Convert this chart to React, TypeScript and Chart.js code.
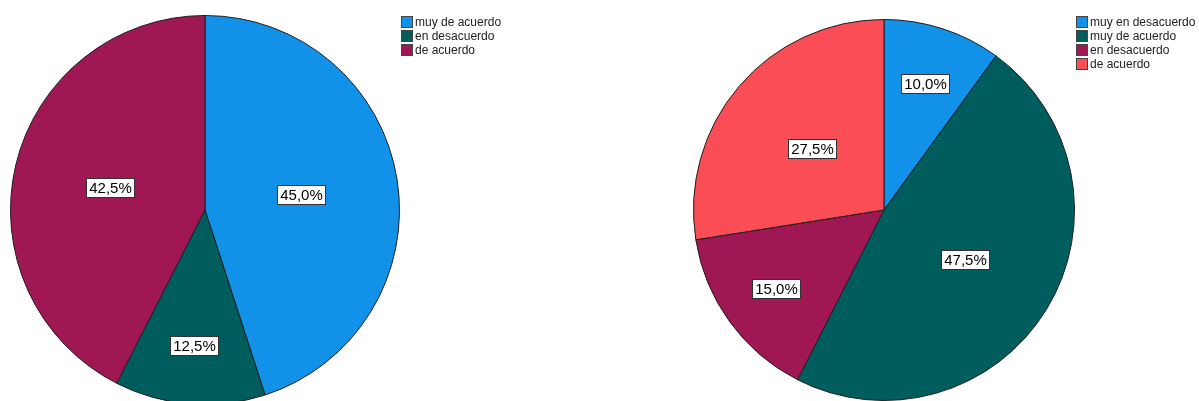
import React, { useEffect, useRef } from "react";
import { Chart, registerables } from "chart.js";

Chart.register(...registerables);

const leftLabels = ["muy de acuerdo", "en desacuerdo", "de acuerdo"];
const leftValues = [45.0, 12.5, 42.5];
const leftColors = ["#1192e8", "#005d5d", "#9f1853"];

const rightLabels = ["muy en desacuerdo", "muy de acuerdo", "en desacuerdo", "de acuerdo"];
const rightValues = [10.0, 47.5, 15.0, 27.5];
const rightColors = ["#1192e8", "#005d5d", "#9f1853", "#fa4d56"];

const FONT = "'Liberation Sans', Arial, sans-serif";

const labelPlugin = {
  id: "sliceLabels",
  afterDatasetsDraw(chart: any) {
    const ctx = chart.ctx;
    const meta = chart.getDatasetMeta(0);
    const data = chart.data.datasets[0].data as number[];
    const total = data.reduce((a, b) => a + b, 0);
    ctx.save();
    ctx.font = `15px ${FONT}`;
    ctx.textAlign = "center";
    ctx.textBaseline = "middle";
    meta.data.forEach((arc: any, i: number) => {
      const { x, y, startAngle, endAngle, outerRadius } = arc.getProps(
        ["x", "y", "startAngle", "endAngle", "outerRadius"],
        true
      );
      const mid = (startAngle + endAngle) / 2;
      const frac = data[i] / total;
      const d = outerRadius * (frac < 0.2 ? 0.7 : 0.5);
      const cx = x + Math.cos(mid) * d;
      const cy = y + Math.sin(mid) * d;
      const text = data[i].toFixed(1).replace(".", ",") + "%";
      const tw = ctx.measureText(text).width;
      const w = Math.round(tw + 5);
      const h = 19;
      const bx = Math.round(cx - w / 2) + 0.5;
      const by = Math.round(cy - h / 2) + 0.5;
      ctx.fillStyle = "#ffffff";
      ctx.fillRect(bx, by, w, h);
      ctx.strokeStyle = "#333333";
      ctx.lineWidth = 1;
      ctx.strokeRect(bx, by, w, h);
      ctx.fillStyle = "#000000";
      ctx.fillText(text, bx + w / 2, by + h / 2 + 1);
    });
    ctx.restore();
  },
};

const legendPlugin = {
  id: "sideLegend",
  afterDraw(chart: any) {
    const ctx = chart.ctx;
    const labels = chart.data.labels as string[];
    const colors = chart.data.datasets[0].backgroundColor as string[];
    const x0 = Math.round(chart.chartArea.right) + 1;
    const y0 = 16;
    ctx.save();
    ctx.font = `12px ${FONT}`;
    ctx.textAlign = "left";
    ctx.textBaseline = "middle";
    labels.forEach((lab, i) => {
      const y = y0 + i * 14;
      ctx.fillStyle = colors[i];
      ctx.fillRect(x0 + 0.5, y + 0.5, 11, 11);
      ctx.strokeStyle = "#444444";
      ctx.lineWidth = 1;
      ctx.strokeRect(x0 + 0.5, y + 0.5, 11, 11);
      ctx.fillStyle = "#222222";
      ctx.fillText(lab, x0 + 14, y + 6.5);
    });
    ctx.restore();
  },
};

type PieProps = {
  labels: string[];
  values: number[];
  colors: string[];
  left: number;
  width: number;
  height: number;
  padding: { left: number; right: number; top: number; bottom: number };
};

function PieChart({ labels, values, colors, left, width, height, padding }: PieProps) {
  const ref = useRef<HTMLCanvasElement>(null);
  useEffect(() => {
    if (!ref.current) return;
    const chart = new Chart(ref.current, {
      type: "pie",
      data: {
        labels,
        datasets: [
          {
            data: values,
            backgroundColor: colors,
            borderColor: "#1e1e1e",
            borderWidth: 1,
          },
        ],
      },
      options: {
        animation: false,
        responsive: false,
        maintainAspectRatio: false,
        layout: { padding },
        plugins: {
          legend: { display: false },
          tooltip: { enabled: false },
        },
      },
      plugins: [labelPlugin, legendPlugin],
    });
    return () => chart.destroy();
  }, []);
  return (
    <canvas
      ref={ref}
      width={width}
      height={height}
      style={{ position: "absolute", left, top: 0, width, height }}
    />
  );
}

export default function App() {
  return (
    <div
      style={{
        position: "fixed",
        left: 0,
        top: 0,
        width: 1199,
        height: 401,
        overflow: "hidden",
        background: "#ffffff",
      }}
    >
      <PieChart
        labels={leftLabels}
        values={leftValues}
        colors={leftColors}
        left={0}
        width={600}
        height={420}
        padding={{ left: 10, top: 15, right: 200, bottom: 15 }}
      />
      <PieChart
        labels={rightLabels}
        values={rightValues}
        colors={rightColors}
        left={600}
        width={599}
        height={420}
        padding={{ left: 93, top: 19, right: 124, bottom: 19 }}
      />
    </div>
  );
}
